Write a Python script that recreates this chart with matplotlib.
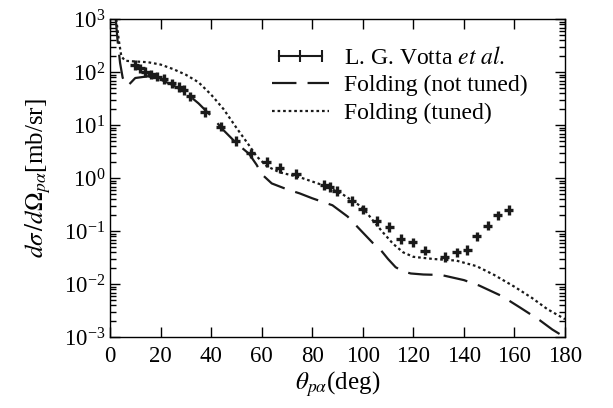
import matplotlib
matplotlib.use("Agg")
import matplotlib.pyplot as plt
import numpy as np
from matplotlib.lines import Line2D
from matplotlib.legend_handler import HandlerLine2D
from matplotlib.ticker import LogLocator, FixedLocator, NullLocator, FuncFormatter

plt.rcParams['font.family'] = ['Liberation Serif', 'DejaVu Serif']
plt.rcParams['mathtext.fontset'] = 'stix'

# L. G. Votta et al. data
theta_exp = [9.8, 12.0, 14.0, 16.3, 18.6, 21.2, 24.5, 27.2, 29.2, 31.8, 37.6, 43.8,
             49.8, 55.6, 62.0, 67.2, 73.6, 84.7, 87.0, 89.7, 95.6, 100.0, 105.5,
             110.4, 115.0, 119.7, 124.6, 132.5, 137.1, 141.3, 145.1, 149.5, 153.4, 157.7]
xs_exp = [137, 119, 102, 91, 83, 75, 62, 53, 46, 35, 18, 9.4,
          5.1, 2.95, 2.05, 1.55, 1.2, 0.75, 0.68, 0.58, 0.37, 0.26, 0.155,
          0.12, 0.072, 0.062, 0.043, 0.033, 0.040, 0.044, 0.080, 0.128, 0.20, 0.25]

# folding model, not tuned
theta_nt = [2.3, 3, 4, 5, 6, 7, 8, 10, 15, 20, 25, 30, 35, 40, 45, 50, 55, 58, 60,
            64, 70, 75, 80, 88, 94, 100, 104, 107, 110, 113, 116, 119, 124, 131,
            140, 146, 155, 162, 170, 175, 180]
xs_nt = [1000, 400, 150, 80, 60, 56, 62, 78, 84, 73, 57, 41, 26, 15, 8.0, 4.6, 2.9,
         1.8, 1.2, 0.8, 0.62, 0.52, 0.42, 0.31, 0.19, 0.095, 0.06, 0.045, 0.03,
         0.021, 0.0175, 0.016, 0.0153, 0.015, 0.012, 0.0095, 0.006, 0.0037,
         0.0021, 0.0014, 0.001]

# folding model, tuned
theta_t = [2.5, 3.5, 4.5, 6, 10, 15, 20, 25, 30, 35, 40, 45, 50, 55, 58, 62, 67,
           75, 85, 92, 100, 104, 108, 112, 116, 120, 128, 137, 145, 152, 160, 167,
           173, 180]
xs_t = [1000, 400, 200, 165, 160, 155, 140, 115, 90, 65, 38, 20, 9.0, 4.2, 2.6,
        1.7, 1.3, 1.05, 0.72, 0.5, 0.28, 0.16, 0.095, 0.058, 0.04, 0.033, 0.030,
        0.028, 0.022, 0.015, 0.009, 0.0055, 0.0034, 0.0022]

INK = '#1a1a1a'

fig = plt.figure(figsize=(6.13, 4.08), dpi=100)
ax = fig.add_axes([0.1794, 0.1733, 0.7423, 0.7794])

xs_exp_a = np.array(xs_exp)
f = 10 ** 0.09
yerr = [xs_exp_a * (1 - 1 / f), xs_exp_a * (f - 1)]
ax.errorbar(theta_exp, xs_exp, xerr=1.8, yerr=yerr, fmt='none', ecolor=INK,
            elinewidth=2.4, capsize=0, zorder=3)
ax.plot(theta_nt, xs_nt, color=INK, lw=1.6, dashes=(11, 5))
ax.plot(theta_t, xs_t, color=INK, lw=1.6, dashes=(1.2, 1.3))

# legend proxies
h1 = Line2D([], [], color=INK, lw=1.5, marker='|', ms=9, mew=1.5)
h2 = Line2D([], [], color=INK, lw=1.6, dashes=(11, 5))
h3 = Line2D([], [], color=INK, lw=1.6, dashes=(1.2, 1.3))
leg = ax.legend([h1, h2, h3], [r'L. G. Votta $\it{et\ al.}$', 'Folding (not tuned)',
                               'Folding (tuned)'],
                handler_map={h1: HandlerLine2D(numpoints=3)},
                loc='upper left', bbox_to_anchor=(0.355, 0.913), borderaxespad=0,
                borderpad=0, frameon=False, fontsize=17, handlelength=2.45,
                handletextpad=0.6, labelspacing=0.25)

ax.set_yscale('log')
ax.set_xlim(0, 180)
ax.set_ylim(1e-3, 1e3)
ax.xaxis.set_major_locator(FixedLocator(np.arange(0, 181, 20)))
ax.xaxis.set_minor_locator(NullLocator())
ax.yaxis.set_major_locator(LogLocator(base=10, numticks=10))
ax.yaxis.set_minor_locator(LogLocator(base=10, subs=np.arange(2, 10), numticks=10))
ax.yaxis.set_major_formatter(FuncFormatter(
    lambda v, p: r'$\mathregular{10^{%d}}$' % int(round(np.log10(v)))))
ax.tick_params(which='both', direction='in', top=True, right=True, labelsize=16.5,
               width=1.0)
ax.tick_params(which='major', length=7)
ax.tick_params(which='minor', length=4)
ax.tick_params(axis='x', pad=6)
for s in ax.spines.values():
    s.set_linewidth(1.0)

ax.set_xlabel(r'$\theta_{p\alpha}$(deg)', fontsize=18, labelpad=2)
ax.set_ylabel(r'$d\sigma\,/d\Omega_{p\alpha}$[mb/sr]', fontsize=18, labelpad=8)

fig.savefig('out.png', dpi=100)
